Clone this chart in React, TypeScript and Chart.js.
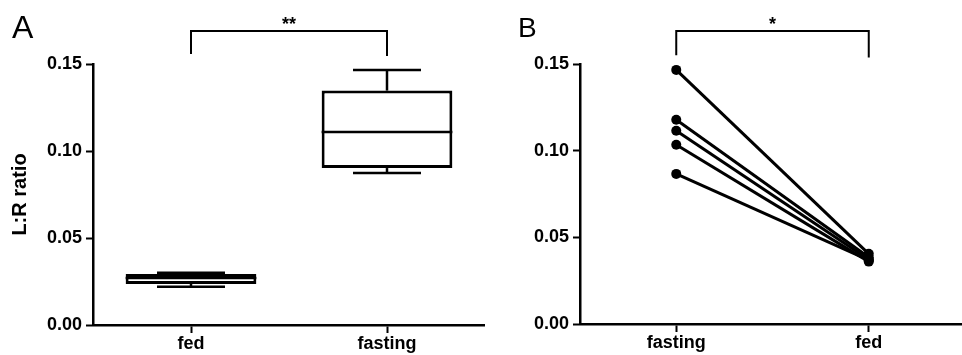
import React, { useEffect, useRef } from 'react';
import { Chart, registerables } from 'chart.js';

Chart.register(...registerables);

const FONT = "'Liberation Sans', Arial, Helvetica, sans-serif";

// Panel A: box plot
const boxCategories = ['fed', 'fasting'];
const boxMin = [0.022, 0.0874];
const boxQ1 = [0.0236, 0.0902];
const boxMedian = [0.027, 0.1109];
const boxQ3 = [0.0293, 0.1347];
const boxMax = [0.0301, 0.1466];

// Panel B: paired values
const pairCategories = ['fasting', 'fed'];
const pairFasting = [0.1466, 0.1178, 0.1115, 0.1034, 0.0866];
const pairFed = [0.0405, 0.0385, 0.0372, 0.036, 0.0368];

const yTicks = [0, 0.05, 0.1, 0.15];
const yTitle = 'L:R ratio';

// significance brackets (data units)
const sigALevel = 0.169;
const sigALegs = [0.1557, 0.1546];
const sigALabel = '**';
const sigBLevel = 0.169;
const sigBLegs = [0.155, 0.1538];
const sigBLabel = '*';

const line = (ctx: CanvasRenderingContext2D, x1: number, y1: number, x2: number, y2: number) => {
  ctx.beginPath();
  ctx.moveTo(x1, y1);
  ctx.lineTo(x2, y2);
  ctx.stroke();
};

const makeBracketPlugin = (level: number, legs: number[], label: string) => ({
  id: 'sigBracket',
  afterDraw(chart: any) {
    const { ctx, scales } = chart;
    const x = scales.x;
    const y = scales.y;
    const x0 = x.getPixelForValue(0);
    const x1 = x.getPixelForValue(1);
    const yl = y.getPixelForValue(level);
    ctx.save();
    ctx.strokeStyle = '#000';
    ctx.lineWidth = 2;
    ctx.beginPath();
    ctx.moveTo(x0, y.getPixelForValue(legs[0]));
    ctx.lineTo(x0, yl);
    ctx.lineTo(x1, yl);
    ctx.lineTo(x1, y.getPixelForValue(legs[1]));
    ctx.stroke();
    ctx.fillStyle = '#000';
    ctx.font = `bold 18px ${FONT}`;
    ctx.textAlign = 'center';
    ctx.textBaseline = 'alphabetic';
    ctx.fillText(label, (x0 + x1) / 2, yl - 1);
    ctx.restore();
  },
});

const makeLetterPlugin = (letter: string, px: number, py: number, size: number) => ({
  id: 'panelLetter',
  afterDraw(chart: any) {
    const { ctx } = chart;
    ctx.save();
    ctx.fillStyle = '#000';
    ctx.font = `${size}px ${FONT}`;
    ctx.textAlign = 'left';
    ctx.textBaseline = 'alphabetic';
    ctx.fillText(letter, px, py);
    ctx.restore();
  },
});

const boxPlugin = {
  id: 'boxWhisker',
  afterDatasetsDraw(chart: any) {
    const { ctx, scales } = chart;
    const x = scales.x;
    const y = scales.y;
    const meta = chart.getDatasetMeta(0);
    ctx.save();
    ctx.strokeStyle = '#000';
    ctx.lineWidth = 2.5;
    boxCategories.forEach((_, i) => {
      const bar = meta.data[i];
      const cx = x.getPixelForValue(i);
      const half = bar.width / 2;
      const capHalf = half * 0.52;
      const ym = y.getPixelForValue(boxMedian[i]);
      line(ctx, cx - half, ym, cx + half, ym);
      const yq3 = y.getPixelForValue(boxQ3[i]);
      const yMax = y.getPixelForValue(boxMax[i]);
      line(ctx, cx, yq3, cx, yMax);
      line(ctx, cx - capHalf, yMax, cx + capHalf, yMax);
      const yq1 = y.getPixelForValue(boxQ1[i]);
      const yMin = y.getPixelForValue(boxMin[i]);
      line(ctx, cx, yq1, cx, yMin);
      line(ctx, cx - capHalf, yMin, cx + capHalf, yMin);
    });
    ctx.restore();
  },
};

const yScale = (width: number, withTitle: boolean) => ({
  type: 'linear',
  min: 0,
  max: 0.15,
  afterBuildTicks: (scale: any) => {
    scale.ticks = yTicks.map((v) => ({ value: v }));
  },
  afterFit: (scale: any) => {
    scale.width = width;
  },
  ticks: {
    color: '#000',
    font: { family: FONT, size: 18, weight: 'bold' },
    padding: 4,
    callback: (v: any) => Number(v).toFixed(2),
  },
  grid: {
    drawOnChartArea: false,
    drawTicks: true,
    tickLength: 7,
    tickWidth: 2,
    tickColor: '#000',
  },
  border: { display: true, color: '#000', width: 2.5 },
  title: {
    display: withTitle,
    text: yTitle,
    color: '#000',
    font: { family: FONT, size: 20, weight: 'bold' },
    padding: { top: 8, bottom: 0 },
  },
});

const xScale = () => ({
  type: 'category',
  offset: true,
  afterFit: (scale: any) => {
    scale.height = 30;
  },
  ticks: {
    color: '#000',
    font: { family: FONT, size: 18, weight: 'bold' },
    padding: 0,
  },
  grid: {
    offset: false,
    drawOnChartArea: false,
    drawTicks: true,
    tickLength: 8,
    tickWidth: 2,
    tickColor: '#000',
  },
  border: { display: true, color: '#000', width: 2.5 },
});

export default function App() {
  const refA = useRef<HTMLCanvasElement>(null);
  const refB = useRef<HTMLCanvasElement>(null);

  useEffect(() => {
    const chartA = new Chart(refA.current as HTMLCanvasElement, {
      type: 'bar',
      data: {
        labels: boxCategories,
        datasets: [
          {
            data: boxCategories.map((_, i) => [boxQ1[i], boxQ3[i]]),
            backgroundColor: '#fff',
            borderColor: '#000',
            borderWidth: 3,
            borderSkipped: false,
            barPercentage: 0.667,
            categoryPercentage: 1,
          } as any,
        ],
      },
      options: {
        responsive: false,
        animation: false,
        events: [],
        layout: { padding: { top: 64, right: 0, left: 0, bottom: 0 } },
        plugins: { legend: { display: false }, tooltip: { enabled: false } },
        scales: { x: xScale(), y: yScale(93, true) } as any,
      },
      plugins: [boxPlugin, makeBracketPlugin(sigALevel, sigALegs, sigALabel), makeLetterPlugin('A', 12, 38, 32)],
    });

    const chartB = new Chart(refB.current as HTMLCanvasElement, {
      type: 'line',
      data: {
        labels: pairCategories,
        datasets: pairFasting.map((v, i) => ({
          data: [v, pairFed[i]],
          borderColor: '#000',
          backgroundColor: '#000',
          borderWidth: 3,
          pointRadius: 5,
          pointBackgroundColor: '#000',
          pointBorderColor: '#000',
          pointBorderWidth: 0,
          fill: false,
          tension: 0,
        })),
      },
      options: {
        responsive: false,
        animation: false,
        events: [],
        layout: { padding: { top: 64, right: 0, left: 0, bottom: 1 } },
        plugins: { legend: { display: false }, tooltip: { enabled: false } },
        scales: { x: xScale(), y: yScale(95, false) } as any,
      },
      plugins: [makeBracketPlugin(sigBLevel, sigBLegs, sigBLabel), makeLetterPlugin('B', 33, 37, 28)],
    });

    return () => {
      chartA.destroy();
      chartB.destroy();
    };
  }, []);

  return (
    <div
      style={{
        position: 'absolute',
        left: 0,
        top: 0,
        width: 962,
        height: 355,
        overflow: 'hidden',
        background: '#fff',
      }}
    >
      <canvas ref={refA} width={485} height={355} style={{ position: 'absolute', left: 0, top: 0 }} />
      <canvas ref={refB} width={485} height={355} style={{ position: 'absolute', left: 485, top: 0 }} />
    </div>
  );
}
